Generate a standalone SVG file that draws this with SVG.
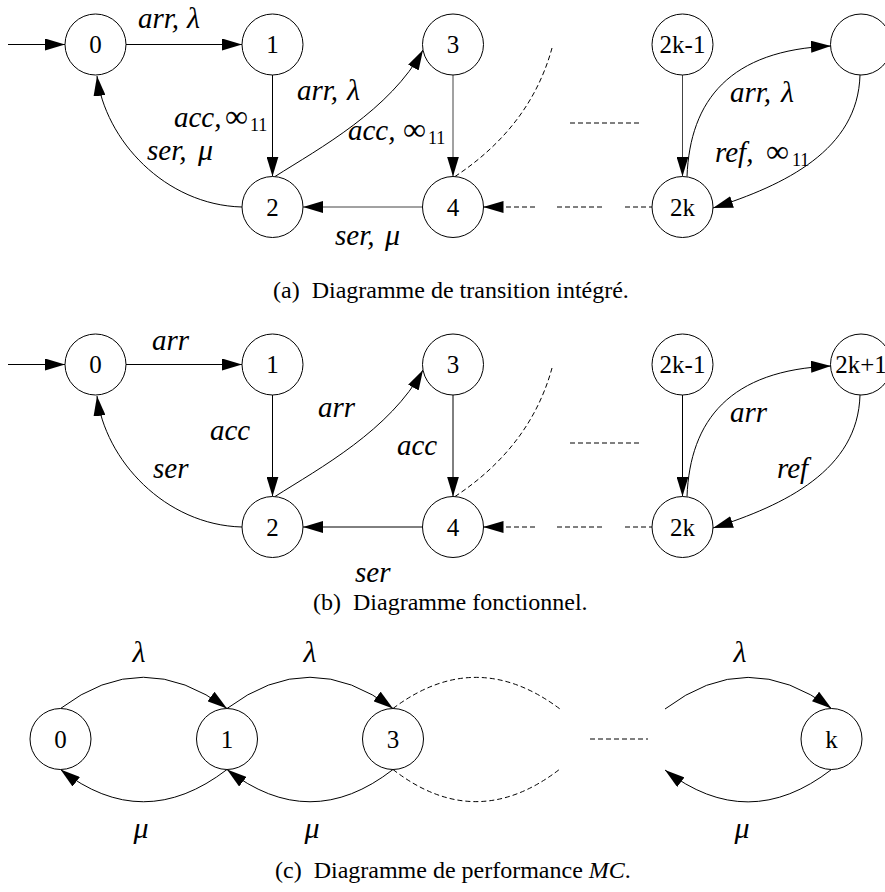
<svg xmlns="http://www.w3.org/2000/svg" width="885" height="892" viewBox="0 0 885 892">
<defs>
  <marker id="head" viewBox="0 0 20 12" refX="20" refY="6" markerWidth="20" markerHeight="12" markerUnits="userSpaceOnUse" orient="auto">
    <path d="M0,0 L20,6 L0,12 z" fill="#000"/>
  </marker>
</defs>
<style>
  .node circle { fill: #fff; stroke: #000; stroke-width: 1; }
  .node text { font-family: "Liberation Serif", serif; font-size: 25px; text-anchor: middle; }
  .edge { fill: none; stroke: #000; stroke-width: 1; }
  .soft { stroke: #444; }
  .arr { marker-end: url(#head); }
  .dash { fill: none; stroke: #000; stroke-width: 1; stroke-dasharray: 5 3; }
  .lab { font-family: "Liberation Serif", serif; font-size: 29px; font-style: italic; }
  .gr { font-size: 30px; }
  .mid { text-anchor: middle; }
  .up { font-style: normal; font-size: 32px; }
  .sub { font-style: normal; font-size: 18px; }
  .cap { font-family: "Liberation Serif", serif; font-size: 24px; }
  .capi { font-style: italic; }
</style>

<!-- (a) integrated transition diagram -->
<g id="connectors-a">
  <path class="edge arr" d="M8,44.5 H65"/>
  <path class="edge arr" d="M126,44.5 H242"/>
  <path class="edge arr" d="M272.5,75 V176.5"/>
  <path class="edge arr" d="M242,207 C165,205 105,140 97,76"/>
  <path class="edge arr" d="M275,176.5 C320,148 390,110 423,50"/>
  <path class="edge soft arr" d="M453,75 V176.5"/>
  <path class="edge soft arr" d="M422.5,207 H303"/>
  <path class="dash" d="M455,176.5 C495,150 535,110 552,48"/>
  <path class="dash" d="M570,123 H640"/>
  <path class="dash arr" d="M535,207 H483.5"/>
  <path class="dash" d="M557,207 H603"/>
  <path class="dash" d="M625,207 H652"/>
  <path class="edge soft arr" d="M682.5,75 V176.5"/>
  <path class="edge arr" d="M687,176.5 C690,100 730,50 831,46"/>
  <path class="edge arr" d="M860,75 C858,150 785,185 713,208"/>
</g>
<g id="labels-a">
  <text class="lab" x="138" y="28">arr,<tspan class="gr" x="187">λ</tspan></text>
  <text class="lab" x="174" y="127">acc,<tspan class="up" x="225">∞</tspan><tspan class="sub" x="250" dy="4">11</tspan></text>
  <text class="lab" x="147" y="160">ser,<tspan class="gr" x="198">μ</tspan></text>
  <text class="lab" x="297" y="100">arr,<tspan class="gr" x="347">λ</tspan></text>
  <text class="lab" x="348" y="140">acc,<tspan class="up" x="403">∞</tspan><tspan class="sub" x="428" dy="4">11</tspan></text>
  <text class="lab" x="335" y="245">ser,<tspan class="gr" x="385">μ</tspan></text>
  <text class="lab" x="730" y="102">arr,<tspan class="gr" x="781">λ</tspan></text>
  <text class="lab" x="715" y="162">ref,<tspan class="up" x="766">∞</tspan><tspan class="sub" x="792" dy="4">11</tspan></text>
</g>
<g id="a-n0" class="node"><circle cx="95.5" cy="44.5" r="30.5"/><text x="95.5" y="53">0</text></g>
<g id="a-n1" class="node"><circle cx="272.5" cy="44.5" r="30.5"/><text x="272.5" y="53">1</text></g>
<g id="a-n2" class="node"><circle cx="272.5" cy="207" r="30.5"/><text x="272.5" y="215.5">2</text></g>
<g id="a-n3" class="node"><circle cx="453" cy="44.5" r="30.5"/><text x="453" y="53">3</text></g>
<g id="a-n4" class="node"><circle cx="453" cy="207" r="30.5"/><text x="453" y="215.5">4</text></g>
<g id="a-n2k-1" class="node"><circle cx="682.5" cy="44.5" r="30.5"/><text x="682.5" y="53">2k-1</text></g>
<g id="a-n2k+1" class="node"><circle cx="861" cy="44.5" r="30.5"/></g>
<g id="a-n2k" class="node"><circle cx="682.5" cy="207" r="30.5"/><text x="682.5" y="215.5">2k</text></g>
<text class="cap" x="273" y="298">(a)&#160; Diagramme de transition intégré.</text>

<!-- (b) functional diagram -->
<g id="connectors-b">
  <path class="edge arr" d="M8,364.5 H65"/>
  <path class="edge arr" d="M126,364.5 H242"/>
  <path class="edge arr" d="M272.5,395 V496.5"/>
  <path class="edge arr" d="M242,527 C165,525 105,460 97,396"/>
  <path class="edge arr" d="M275,496.5 C320,468 390,430 423,370"/>
  <path class="edge arr" d="M453,395 V496.5"/>
  <path class="edge arr" d="M422.5,527 H303"/>
  <path class="dash" d="M455,496.5 C495,470 535,430 552,368"/>
  <path class="dash" d="M570,443 H640"/>
  <path class="dash arr" d="M535,527 H483.5"/>
  <path class="dash" d="M557,527 H603"/>
  <path class="dash" d="M625,527 H652"/>
  <path class="edge arr" d="M682.5,395 V496.5"/>
  <path class="edge arr" d="M687,496.5 C690,420 730,370 831,366"/>
  <path class="edge arr" d="M860,395 C858,470 785,505 713,528"/>
</g>
<g id="labels-b">
  <text class="lab" x="152" y="350">arr</text>
  <text class="lab" x="210" y="440">acc</text>
  <text class="lab" x="153" y="478">ser</text>
  <text class="lab" x="318" y="417">arr</text>
  <text class="lab" x="397" y="455">acc</text>
  <text class="lab" x="355" y="582">ser</text>
  <text class="lab" x="730" y="422">arr</text>
  <text class="lab" x="777" y="478">ref</text>
</g>
<g id="b-n0" class="node"><circle cx="95.5" cy="364.5" r="30.5"/><text x="95.5" y="373">0</text></g>
<g id="b-n1" class="node"><circle cx="272.5" cy="364.5" r="30.5"/><text x="272.5" y="373">1</text></g>
<g id="b-n2" class="node"><circle cx="272.5" cy="527" r="30.5"/><text x="272.5" y="535.5">2</text></g>
<g id="b-n3" class="node"><circle cx="453" cy="364.5" r="30.5"/><text x="453" y="373">3</text></g>
<g id="b-n4" class="node"><circle cx="453" cy="527" r="30.5"/><text x="453" y="535.5">4</text></g>
<g id="b-n2k-1" class="node"><circle cx="682.5" cy="364.5" r="30.5"/><text x="682.5" y="373">2k-1</text></g>
<g id="b-n2k+1" class="node"><circle cx="861" cy="364.5" r="30.5"/><text x="861" y="373">2k+1</text></g>
<g id="b-n2k" class="node"><circle cx="682.5" cy="527" r="30.5"/><text x="682.5" y="535.5">2k</text></g>
<text class="cap" x="313" y="610">(b)&#160; Diagramme fonctionnel.</text>

<!-- (c) performance Markov chain -->
<g id="connectors-c">
  <path class="edge arr" d="M60.5,708.5 Q143,646 227,708.5"/>
  <path class="edge arr" d="M227,769.5 Q143,834 60.5,769.5"/>
  <path class="edge arr" d="M227,708.5 Q310,646 393,708.5"/>
  <path class="edge arr" d="M393,769.5 Q310,834 227,769.5"/>
  <path class="dash" d="M393,708.5 Q476,646 560,709"/>
  <path class="dash" d="M393,769.5 Q476,834 560,769"/>
  <path class="dash" d="M590,739 H648"/>
  <path class="edge arr" d="M665,709 Q748,646 831.5,708.5"/>
  <path class="edge arr" d="M831.5,769.5 Q748,834 665,770"/>
</g>
<g id="labels-c">
  <text class="lab gr mid" x="139" y="662">λ</text>
  <text class="lab gr mid" x="141" y="838">μ</text>
  <text class="lab gr mid" x="310" y="662">λ</text>
  <text class="lab gr mid" x="312" y="838">μ</text>
  <text class="lab gr mid" x="740" y="662">λ</text>
  <text class="lab gr mid" x="742" y="838">μ</text>
</g>
<g id="c-n0" class="node"><circle cx="60.5" cy="739" r="30.5"/><text x="60.5" y="747.5">0</text></g>
<g id="c-n1" class="node"><circle cx="227" cy="739" r="30.5"/><text x="227" y="747.5">1</text></g>
<g id="c-n3" class="node"><circle cx="393" cy="739" r="30.5"/><text x="393" y="747.5">3</text></g>
<g id="c-nk" class="node"><circle cx="831.5" cy="739" r="30.5"/><text x="831.5" y="747.5">k</text></g>
<text class="cap" x="275" y="878">(c)&#160; Diagramme de performance <tspan class="capi">MC</tspan>.</text>
</svg>
